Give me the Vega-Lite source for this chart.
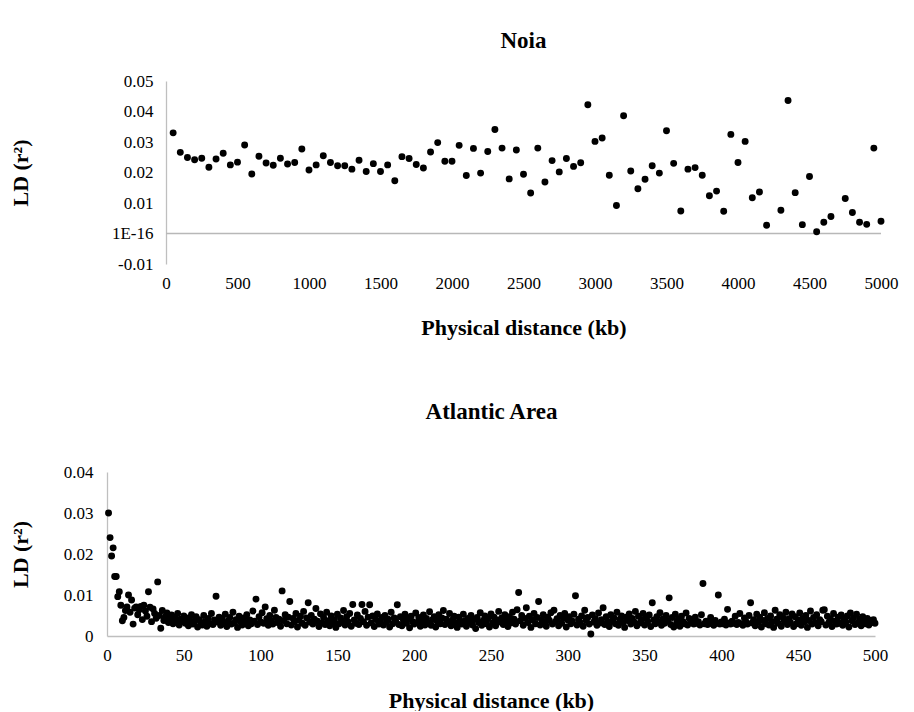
{
"$schema": "https://vega.github.io/schema/vega-lite/v6.json",
"background": "white",
"padding": {"left": 9, "top": 30, "right": 5, "bottom": 0},
"spacing": 63,
"config": {"view": {"stroke": null}, "font": "Liberation Serif",
 "title": {"font": "Liberation Serif", "fontSize": 23, "fontWeight": "bold", "color": "black", "anchor": "middle"},
 "axis": {"labelFont": "Liberation Serif", "labelFontSize": 17, "labelColor": "black", "titleFont": "Liberation Serif", "titleFontSize": 22, "titleFontWeight": "bold", "titleColor": "black", "grid": false, "ticks": false, "domainColor": "#bfbfbf", "domainWidth": 1.3, "labelOverlap": false}},
"datasets": {
"noia": [
{"d":50,"r":0.0330},{"d":100,"r":0.0266},{"d":150,"r":0.0249},{"d":200,"r":0.0242},{"d":250,"r":0.0247},{"d":300,"r":0.0217},{"d":350,"r":0.0244},{"d":400,"r":0.0263},{"d":450,"r":0.0225},{"d":500,"r":0.0234},
{"d":550,"r":0.0290},{"d":600,"r":0.0195},{"d":650,"r":0.0253},{"d":700,"r":0.0231},{"d":750,"r":0.0224},{"d":800,"r":0.0247},{"d":850,"r":0.0228},{"d":900,"r":0.0233},{"d":950,"r":0.0277},{"d":1000,"r":0.0208},
{"d":1050,"r":0.0225},{"d":1100,"r":0.0255},{"d":1150,"r":0.0233},{"d":1200,"r":0.0222},{"d":1250,"r":0.0222},{"d":1300,"r":0.0211},{"d":1350,"r":0.0240},{"d":1400,"r":0.0203},{"d":1450,"r":0.0229},{"d":1500,"r":0.0203},
{"d":1550,"r":0.0225},{"d":1600,"r":0.0173},{"d":1650,"r":0.0252},{"d":1700,"r":0.0246},{"d":1750,"r":0.0226},{"d":1800,"r":0.0215},{"d":1850,"r":0.0267},{"d":1900,"r":0.0298},{"d":1950,"r":0.0237},{"d":2000,"r":0.0237},
{"d":2050,"r":0.0289},{"d":2100,"r":0.0190},{"d":2150,"r":0.0279},{"d":2200,"r":0.0198},{"d":2250,"r":0.0269},{"d":2300,"r":0.0341},{"d":2350,"r":0.0280},{"d":2400,"r":0.0179},{"d":2450,"r":0.0274},{"d":2500,"r":0.0194},
{"d":2550,"r":0.0133},{"d":2600,"r":0.0280},{"d":2650,"r":0.0169},{"d":2700,"r":0.0239},{"d":2750,"r":0.0202},{"d":2800,"r":0.0246},{"d":2850,"r":0.0220},{"d":2900,"r":0.0232},{"d":2950,"r":0.0422},{"d":3000,"r":0.0302},
{"d":3050,"r":0.0313},{"d":3100,"r":0.0191},{"d":3150,"r":0.0092},{"d":3200,"r":0.0386},{"d":3250,"r":0.0205},{"d":3300,"r":0.0147},{"d":3350,"r":0.0178},{"d":3400,"r":0.0222},{"d":3450,"r":0.0198},{"d":3500,"r":0.0337},
{"d":3550,"r":0.0230},{"d":3600,"r":0.0074},{"d":3650,"r":0.0211},{"d":3700,"r":0.0216},{"d":3750,"r":0.0191},{"d":3800,"r":0.0124},{"d":3850,"r":0.0139},{"d":3900,"r":0.0073},{"d":3950,"r":0.0325},{"d":4000,"r":0.0233},
{"d":4050,"r":0.0302},{"d":4100,"r":0.0117},{"d":4150,"r":0.0136},{"d":4200,"r":0.0027},{"d":4300,"r":0.0076},{"d":4350,"r":0.0436},{"d":4400,"r":0.0134},{"d":4450,"r":0.0029},{"d":4500,"r":0.0187},{"d":4550,"r":0.0006},
{"d":4600,"r":0.0037},{"d":4650,"r":0.0056},{"d":4750,"r":0.0115},{"d":4800,"r":0.0069},{"d":4850,"r":0.0037},{"d":4900,"r":0.0030},{"d":4950,"r":0.0280},{"d":5000,"r":0.0040}
],
"atl": [
{"d":1,"r":0.030},{"d":2,"r":0.024},{"d":3,"r":0.0195},{"d":4,"r":0.0215},{"d":5,"r":0.0145},{"d":6,"r":0.0145},{"d":7,"r":0.0096},{"d":8,"r":0.0108},{"d":9,"r":0.0075},{"d":10,"r":0.0037},
{"d":11,"r":0.0045},{"d":12,"r":0.0062},{"d":13,"r":0.0071},{"d":14,"r":0.0100},{"d":15,"r":0.0058},{"d":16,"r":0.0088},{"d":17,"r":0.0029},{"d":18,"r":0.0068},{"d":19,"r":0.0071},{"d":20,"r":0.0052},
{"d":21,"r":0.0064},{"d":22,"r":0.0072},{"d":23,"r":0.0040},{"d":24,"r":0.0075},{"d":25,"r":0.0061},{"d":26,"r":0.0048},{"d":27,"r":0.0108},{"d":28,"r":0.0070},{"d":29,"r":0.0035},{"d":30,"r":0.0066},
{"d":31,"r":0.0055},{"d":32,"r":0.0043},{"d":33,"r":0.0132},{"d":34,"r":0.0050},{"d":35,"r":0.0019},{"d":36,"r":0.0062},{"d":37,"r":0.0038},{"d":38,"r":0.0047},{"d":39,"r":0.0056},{"d":40,"r":0.0033},
{"d":41,"r":0.0042},{"d":42,"r":0.0051},{"d":43,"r":0.0030},{"d":44,"r":0.0046},{"d":45,"r":0.0038},{"d":46,"r":0.0055},{"d":47,"r":0.0027},{"d":48,"r":0.0041},{"d":49,"r":0.0035},{"d":50,"r":0.0049},
{"d":51,"r":0.0031},{"d":52,"r":0.0044},{"d":53,"r":0.0025},{"d":54,"r":0.0038},{"d":55,"r":0.0052},{"d":56,"r":0.0029},{"d":57,"r":0.0036},{"d":58,"r":0.0047},{"d":59,"r":0.0022},{"d":60,"r":0.0040},
{"d":61,"r":0.0033},{"d":62,"r":0.0027},{"d":63,"r":0.0050},{"d":64,"r":0.0035},{"d":65,"r":0.0024},{"d":66,"r":0.0043},{"d":67,"r":0.0030},{"d":68,"r":0.0055},{"d":69,"r":0.0028},{"d":70,"r":0.0039},
{"d":71,"r":0.0097},{"d":72,"r":0.0034},{"d":73,"r":0.0046},{"d":74,"r":0.0026},{"d":75,"r":0.0041},{"d":76,"r":0.0031},{"d":77,"r":0.0053},{"d":78,"r":0.0023},{"d":79,"r":0.0037},{"d":80,"r":0.0045},
{"d":81,"r":0.0029},{"d":82,"r":0.0058},{"d":83,"r":0.0032},{"d":84,"r":0.0040},{"d":85,"r":0.0021},{"d":86,"r":0.0048},{"d":87,"r":0.0035},{"d":88,"r":0.0027},{"d":89,"r":0.0044},{"d":90,"r":0.0033},
{"d":91,"r":0.0052},{"d":92,"r":0.0025},{"d":93,"r":0.0039},{"d":94,"r":0.0030},{"d":95,"r":0.0061},{"d":96,"r":0.0036},{"d":97,"r":0.0090},{"d":98,"r":0.0028},{"d":99,"r":0.0047},{"d":100,"r":0.0034},
{"d":101,"r":0.0057},{"d":102,"r":0.0031},{"d":103,"r":0.0071},{"d":104,"r":0.0042},{"d":105,"r":0.0026},{"d":106,"r":0.0050},{"d":107,"r":0.0037},{"d":108,"r":0.0029},{"d":109,"r":0.0063},{"d":110,"r":0.0045},
{"d":111,"r":0.0033},{"d":112,"r":0.0041},{"d":113,"r":0.0024},{"d":114,"r":0.0110},{"d":115,"r":0.0038},{"d":116,"r":0.0052},{"d":117,"r":0.0030},{"d":118,"r":0.0046},{"d":119,"r":0.0084},{"d":120,"r":0.0027},
{"d":121,"r":0.0043},{"d":122,"r":0.0035},{"d":123,"r":0.0055},{"d":124,"r":0.0022},{"d":125,"r":0.0039},{"d":126,"r":0.0048},{"d":127,"r":0.0031},{"d":128,"r":0.0060},{"d":129,"r":0.0026},{"d":130,"r":0.0044},
{"d":131,"r":0.0081},{"d":132,"r":0.0034},{"d":133,"r":0.0050},{"d":134,"r":0.0029},{"d":135,"r":0.0041},{"d":136,"r":0.0067},{"d":137,"r":0.0036},{"d":138,"r":0.0023},{"d":139,"r":0.0054},{"d":140,"r":0.0032},
{"d":141,"r":0.0045},{"d":142,"r":0.0028},{"d":143,"r":0.0058},{"d":144,"r":0.0037},{"d":145,"r":0.0025},{"d":146,"r":0.0049},{"d":147,"r":0.0033},{"d":148,"r":0.0040},{"d":149,"r":0.0021},{"d":150,"r":0.0053},
{"d":151,"r":0.0030},{"d":152,"r":0.0044},{"d":153,"r":0.0036},{"d":154,"r":0.0062},{"d":155,"r":0.0027},{"d":156,"r":0.0047},{"d":157,"r":0.0034},{"d":158,"r":0.0055},{"d":159,"r":0.0024},{"d":160,"r":0.0077},
{"d":161,"r":0.0039},{"d":162,"r":0.0031},{"d":163,"r":0.0051},{"d":164,"r":0.0028},{"d":165,"r":0.0043},{"d":166,"r":0.0077},{"d":167,"r":0.0035},{"d":168,"r":0.0060},{"d":169,"r":0.0026},{"d":170,"r":0.0046},
{"d":171,"r":0.0076},{"d":172,"r":0.0032},{"d":173,"r":0.0049},{"d":174,"r":0.0023},{"d":175,"r":0.0040},{"d":176,"r":0.0054},{"d":177,"r":0.0029},{"d":178,"r":0.0037},{"d":179,"r":0.0045},{"d":180,"r":0.0027},
{"d":181,"r":0.0050},{"d":182,"r":0.0034},{"d":183,"r":0.0041},{"d":184,"r":0.0022},{"d":185,"r":0.0058},{"d":186,"r":0.0030},{"d":187,"r":0.0044},{"d":188,"r":0.0036},{"d":189,"r":0.0076},{"d":190,"r":0.0028},
{"d":191,"r":0.0047},{"d":192,"r":0.0025},{"d":193,"r":0.0039},{"d":194,"r":0.0053},{"d":195,"r":0.0031},{"d":196,"r":0.0042},{"d":197,"r":0.0020},{"d":198,"r":0.0048},{"d":199,"r":0.0035},{"d":200,"r":0.0029},
{"d":201,"r":0.0056},{"d":202,"r":0.0033},{"d":203,"r":0.0045},{"d":204,"r":0.0024},{"d":205,"r":0.0038},{"d":206,"r":0.0051},{"d":207,"r":0.0027},{"d":208,"r":0.0043},{"d":209,"r":0.0032},{"d":210,"r":0.0059},
{"d":211,"r":0.0026},{"d":212,"r":0.0040},{"d":213,"r":0.0047},{"d":214,"r":0.0022},{"d":215,"r":0.0036},{"d":216,"r":0.0052},{"d":217,"r":0.0030},{"d":218,"r":0.0044},{"d":219,"r":0.0062},{"d":220,"r":0.0028},
{"d":221,"r":0.0041},{"d":222,"r":0.0034},{"d":223,"r":0.0055},{"d":224,"r":0.0025},{"d":225,"r":0.0039},{"d":226,"r":0.0048},{"d":227,"r":0.0031},{"d":228,"r":0.0021},{"d":229,"r":0.0046},{"d":230,"r":0.0035},
{"d":231,"r":0.0029},{"d":232,"r":0.0053},{"d":233,"r":0.0037},{"d":234,"r":0.0024},{"d":235,"r":0.0043},{"d":236,"r":0.0032},{"d":237,"r":0.0050},{"d":238,"r":0.0027},{"d":239,"r":0.0040},{"d":240,"r":0.0018},
{"d":241,"r":0.0045},{"d":242,"r":0.0033},{"d":243,"r":0.0057},{"d":244,"r":0.0026},{"d":245,"r":0.0038},{"d":246,"r":0.0049},{"d":247,"r":0.0030},{"d":248,"r":0.0042},{"d":249,"r":0.0022},{"d":250,"r":0.0054},
{"d":251,"r":0.0031},{"d":252,"r":0.0046},{"d":253,"r":0.0025},{"d":254,"r":0.0039},{"d":255,"r":0.0060},{"d":256,"r":0.0034},{"d":257,"r":0.0044},{"d":258,"r":0.0028},{"d":259,"r":0.0052},{"d":260,"r":0.0036},
{"d":261,"r":0.0023},{"d":262,"r":0.0047},{"d":263,"r":0.0032},{"d":264,"r":0.0058},{"d":265,"r":0.0041},{"d":266,"r":0.0029},{"d":267,"r":0.0064},{"d":268,"r":0.0106},{"d":269,"r":0.0037},{"d":270,"r":0.0050},
{"d":271,"r":0.0026},{"d":272,"r":0.0043},{"d":273,"r":0.0069},{"d":274,"r":0.0033},{"d":275,"r":0.0048},{"d":276,"r":0.0021},{"d":277,"r":0.0039},{"d":278,"r":0.0055},{"d":279,"r":0.0030},{"d":280,"r":0.0045},
{"d":281,"r":0.0084},{"d":282,"r":0.0027},{"d":283,"r":0.0040},{"d":284,"r":0.0052},{"d":285,"r":0.0034},{"d":286,"r":0.0024},{"d":287,"r":0.0046},{"d":288,"r":0.0038},{"d":289,"r":0.0057},{"d":290,"r":0.0029},
{"d":291,"r":0.0063},{"d":292,"r":0.0035},{"d":293,"r":0.0042},{"d":294,"r":0.0025},{"d":295,"r":0.0050},{"d":296,"r":0.0031},{"d":297,"r":0.0044},{"d":298,"r":0.0055},{"d":299,"r":0.0022},{"d":300,"r":0.0039},
{"d":301,"r":0.0047},{"d":302,"r":0.0030},{"d":303,"r":0.0036},{"d":304,"r":0.0053},{"d":305,"r":0.0098},{"d":306,"r":0.0027},{"d":307,"r":0.0041},{"d":308,"r":0.0033},{"d":309,"r":0.0049},{"d":310,"r":0.0024},
{"d":311,"r":0.0063},{"d":312,"r":0.0038},{"d":313,"r":0.0045},{"d":314,"r":0.0029},{"d":315,"r":0.0005},{"d":316,"r":0.0051},{"d":317,"r":0.0034},{"d":318,"r":0.0042},{"d":319,"r":0.0026},{"d":320,"r":0.0056},
{"d":321,"r":0.0032},{"d":322,"r":0.0040},{"d":323,"r":0.0069},{"d":324,"r":0.0028},{"d":325,"r":0.0047},{"d":326,"r":0.0035},{"d":327,"r":0.0023},{"d":328,"r":0.0052},{"d":329,"r":0.0037},{"d":330,"r":0.0044},
{"d":331,"r":0.0030},{"d":332,"r":0.0058},{"d":333,"r":0.0026},{"d":334,"r":0.0041},{"d":335,"r":0.0049},{"d":336,"r":0.0033},{"d":337,"r":0.0021},{"d":338,"r":0.0046},{"d":339,"r":0.0038},{"d":340,"r":0.0054},
{"d":341,"r":0.0029},{"d":342,"r":0.0043},{"d":343,"r":0.0035},{"d":344,"r":0.0060},{"d":345,"r":0.0025},{"d":346,"r":0.0048},{"d":347,"r":0.0032},{"d":348,"r":0.0040},{"d":349,"r":0.0055},{"d":350,"r":0.0027},
{"d":351,"r":0.0044},{"d":352,"r":0.0036},{"d":353,"r":0.0051},{"d":354,"r":0.0023},{"d":355,"r":0.0081},{"d":356,"r":0.0039},{"d":357,"r":0.0030},{"d":358,"r":0.0047},{"d":359,"r":0.0034},{"d":360,"r":0.0057},
{"d":361,"r":0.0026},{"d":362,"r":0.0042},{"d":363,"r":0.0031},{"d":364,"r":0.0050},{"d":365,"r":0.0037},{"d":366,"r":0.0093},{"d":367,"r":0.0028},{"d":368,"r":0.0045},{"d":369,"r":0.0022},{"d":370,"r":0.0053},
{"d":371,"r":0.0033},{"d":372,"r":0.0041},{"d":373,"r":0.0024},{"d":374,"r":0.0048},{"d":375,"r":0.0035},{"d":376,"r":0.0030},{"d":377,"r":0.0056},{"d":378,"r":0.0027},{"d":379,"r":0.0043},{"d":380,"r":0.0032},
{"d":381,"r":0.0038},{"d":382,"r":0.0029},{"d":383,"r":0.0046},{"d":384,"r":0.0031},{"d":385,"r":0.0035},{"d":386,"r":0.0027},{"d":387,"r":0.0052},{"d":388,"r":0.0128},{"d":389,"r":0.0030},{"d":390,"r":0.0036},
{"d":391,"r":0.0028},{"d":392,"r":0.0033},{"d":393,"r":0.0045},{"d":394,"r":0.0030},{"d":395,"r":0.0026},{"d":396,"r":0.0038},{"d":397,"r":0.0031},{"d":398,"r":0.0100},{"d":399,"r":0.0029},{"d":400,"r":0.0034},
{"d":401,"r":0.0030},{"d":402,"r":0.0041},{"d":403,"r":0.0027},{"d":404,"r":0.0065},{"d":405,"r":0.0032},{"d":406,"r":0.0029},{"d":407,"r":0.0036},{"d":408,"r":0.0031},{"d":409,"r":0.0048},{"d":410,"r":0.0028},
{"d":411,"r":0.0033},{"d":412,"r":0.0055},{"d":413,"r":0.0030},{"d":414,"r":0.0026},{"d":415,"r":0.0044},{"d":416,"r":0.0035},{"d":417,"r":0.0029},{"d":418,"r":0.0050},{"d":419,"r":0.0081},{"d":420,"r":0.0032},
{"d":421,"r":0.0040},{"d":422,"r":0.0025},{"d":423,"r":0.0053},{"d":424,"r":0.0034},{"d":425,"r":0.0046},{"d":426,"r":0.0022},{"d":427,"r":0.0038},{"d":428,"r":0.0057},{"d":429,"r":0.0030},{"d":430,"r":0.0043},
{"d":431,"r":0.0027},{"d":432,"r":0.0049},{"d":433,"r":0.0035},{"d":434,"r":0.0021},{"d":435,"r":0.0063},{"d":436,"r":0.0041},{"d":437,"r":0.0031},{"d":438,"r":0.0052},{"d":439,"r":0.0024},{"d":440,"r":0.0045},
{"d":441,"r":0.0036},{"d":442,"r":0.0058},{"d":443,"r":0.0028},{"d":444,"r":0.0042},{"d":445,"r":0.0033},{"d":446,"r":0.0054},{"d":447,"r":0.0023},{"d":448,"r":0.0047},{"d":449,"r":0.0030},{"d":450,"r":0.0039},
{"d":451,"r":0.0056},{"d":452,"r":0.0026},{"d":453,"r":0.0043},{"d":454,"r":0.0034},{"d":455,"r":0.0050},{"d":456,"r":0.0021},{"d":457,"r":0.0038},{"d":458,"r":0.0061},{"d":459,"r":0.0029},{"d":460,"r":0.0045},
{"d":461,"r":0.0032},{"d":462,"r":0.0052},{"d":463,"r":0.0025},{"d":464,"r":0.0040},{"d":465,"r":0.0035},{"d":466,"r":0.0063},{"d":467,"r":0.0064},{"d":468,"r":0.0027},{"d":469,"r":0.0048},{"d":470,"r":0.0033},
{"d":471,"r":0.0042},{"d":472,"r":0.0023},{"d":473,"r":0.0055},{"d":474,"r":0.0036},{"d":475,"r":0.0029},{"d":476,"r":0.0046},{"d":477,"r":0.0031},{"d":478,"r":0.0051},{"d":479,"r":0.0026},{"d":480,"r":0.0040},
{"d":481,"r":0.0034},{"d":482,"r":0.0049},{"d":483,"r":0.0022},{"d":484,"r":0.0056},{"d":485,"r":0.0037},{"d":486,"r":0.0044},{"d":487,"r":0.0028},{"d":488,"r":0.0053},{"d":489,"r":0.0032},{"d":490,"r":0.0041},
{"d":491,"r":0.0025},{"d":492,"r":0.0047},{"d":493,"r":0.0035},{"d":494,"r":0.0030},{"d":495,"r":0.0043},{"d":496,"r":0.0027},{"d":497,"r":0.0038},{"d":498,"r":0.0033},{"d":499,"r":0.0040},{"d":500,"r":0.0031}
]
},
"vconcat": [
{
 "width": 715, "height": 183,
 "title": {"text": "Noia", "offset": 19},
 "layer": [
  {"data": {"values": [{}]}, "mark": {"type": "rule", "color": "#b8b8b8", "strokeWidth": 1.5},
   "encoding": {"y": {"datum": 0, "type": "quantitative", "scale": {"domain": [-0.01, 0.05], "nice": false, "zero": false},
      "axis": {"title": "LD (r²)", "values": [-0.01,0,0.01,0.02,0.03,0.04,0.05], "labelOverlap": false, "labelExpr": "datum.value == 0 ? '1E-16' : (datum.value < 0 ? '-0.01' : format(datum.value, '.2f'))", "labelPadding": 13, "titleX": -134}}}},
  {"data": {"name": "noia"},
   "mark": {"type": "circle", "size": 48, "color": "black", "opacity": 1},
   "encoding": {
    "x": {"field": "d", "type": "quantitative", "scale": {"domain": [0, 5000], "nice": false},
      "axis": {"title": "Physical distance (kb)", "format": "d", "values": [0,500,1000,1500,2000,2500,3000,3500,4000,4500,5000], "domain": false, "labelPadding": 11, "titlePadding": 26, "labelFlush": false}},
    "y": {"field": "r", "type": "quantitative", "scale": {"domain": [-0.01, 0.05], "nice": false, "zero": false},
      "axis": {"title": "LD (r²)", "values": [-0.01,0,0.01,0.02,0.03,0.04,0.05], "labelOverlap": false, "labelExpr": "datum.value == 0 ? '1E-16' : (datum.value < 0 ? '-0.01' : format(datum.value, '.2f'))", "labelPadding": 13, "titleX": -134}}
   }}
 ]
},
{
 "width": 709, "height": 164,
 "title": {"text": "Atlantic Area", "offset": 39, "dx": -29},
 "data": {"name": "atl"},
 "mark": {"type": "circle", "size": 48, "color": "black", "opacity": 1},
 "encoding": {
  "x": {"field": "d", "type": "quantitative", "scale": {"domain": [0, 500], "nice": false, "range": [-59, 709]},
    "axis": {"title": "Physical distance (kb)", "format": "d", "values": [0,50,100,150,200,250,300,350,400,450,500], "labelPadding": 11, "titlePadding": 27, "labelFlush": false}},
  "y": {"field": "r", "type": "quantitative", "scale": {"domain": [0, 0.04], "nice": false},
    "axis": {"title": "LD (r²)", "offset": 59, "values": [0,0.01,0.02,0.03,0.04], "labelOverlap": false, "labelExpr": "datum.value == 0 ? '0' : format(datum.value, '.2f')", "labelPadding": 14, "titleX": -75}}
 }
}
]
}
